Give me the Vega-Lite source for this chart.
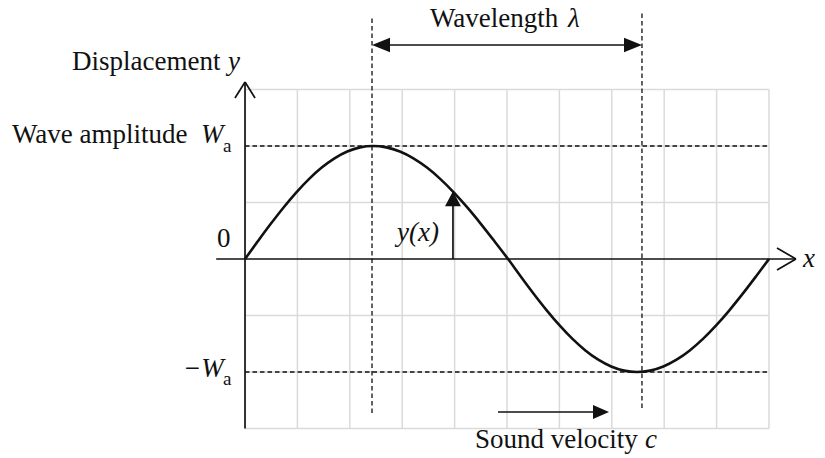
{
  "$schema": "https://vega.github.io/schema/vega-lite/v6.json",
  "width": 825,
  "height": 458,
  "autosize": {"type": "none"},
  "padding": 0,
  "background": "white",
  "config": {"view": {"stroke": null}},
  "datasets": {
    "grid": [
      {"x": 1, "y": -1.5, "x2": 1, "y2": 1.5},
      {"x": 2, "y": -1.5, "x2": 2, "y2": 1.5},
      {"x": 3, "y": -1.5, "x2": 3, "y2": 1.5},
      {"x": 4, "y": -1.5, "x2": 4, "y2": 1.5},
      {"x": 5, "y": -1.5, "x2": 5, "y2": 1.5},
      {"x": 6, "y": -1.5, "x2": 6, "y2": 1.5},
      {"x": 7, "y": -1.5, "x2": 7, "y2": 1.5},
      {"x": 8, "y": -1.5, "x2": 8, "y2": 1.5},
      {"x": 9, "y": -1.5, "x2": 9, "y2": 1.5},
      {"x": 10, "y": -1.5, "x2": 10, "y2": 1.5},
      {"x": 0, "y": -1.5, "x2": 10, "y2": -1.5},
      {"x": 0, "y": -1, "x2": 10, "y2": -1},
      {"x": 0, "y": -0.5, "x2": 10, "y2": -0.5},
      {"x": 0, "y": 0.5, "x2": 10, "y2": 0.5},
      {"x": 0, "y": 1, "x2": 10, "y2": 1},
      {"x": 0, "y": 1.5, "x2": 10, "y2": 1.5}
    ],
    "dashed": [
      {"x": 0, "y": 1, "x2": 10, "y2": 1},
      {"x": 0, "y": -1, "x2": 10, "y2": -1},
      {"x": 2.424, "y": -1.363, "x2": 2.424, "y2": 2.142},
      {"x": 7.576, "y": -1.319, "x2": 7.576, "y2": 2.186}
    ],
    "solid": [
      {"x": 0, "y": -1.5, "x2": 0, "y2": 1.566},
      {"x": -0.191, "y": 1.425, "x2": 0, "y2": 1.566},
      {"x": 0.191, "y": 1.425, "x2": 0, "y2": 1.566},
      {"x": -0.55, "y": 0, "x2": 10.515, "y2": 0},
      {"x": 10.153, "y": 0.097, "x2": 10.515, "y2": 0},
      {"x": 10.153, "y": -0.097, "x2": 10.515, "y2": 0},
      {"x": 2.6, "y": 1.894, "x2": 7.4, "y2": 1.894},
      {"x": 4.828, "y": -1.354, "x2": 6.8, "y2": -1.354},
      {"x": 3.969, "y": 0, "x2": 3.969, "y2": 0.5}
    ],
    "wave": [
      {"x": 0, "y": 0}, {"x": 0.244, "y": 0.1564}, {"x": 0.488, "y": 0.309}, {"x": 0.732, "y": 0.454},
      {"x": 0.976, "y": 0.5878}, {"x": 1.22, "y": 0.7071}, {"x": 1.464, "y": 0.809}, {"x": 1.708, "y": 0.891},
      {"x": 1.952, "y": 0.9511}, {"x": 2.196, "y": 0.9877}, {"x": 2.44, "y": 1}, {"x": 2.698, "y": 0.9877},
      {"x": 2.956, "y": 0.9511}, {"x": 3.214, "y": 0.891}, {"x": 3.472, "y": 0.809}, {"x": 3.73, "y": 0.7071},
      {"x": 3.988, "y": 0.5878}, {"x": 4.246, "y": 0.454}, {"x": 4.504, "y": 0.309}, {"x": 4.762, "y": 0.1564},
      {"x": 5.02, "y": 0}, {"x": 5.266, "y": -0.1564}, {"x": 5.512, "y": -0.309}, {"x": 5.758, "y": -0.454},
      {"x": 6.004, "y": -0.5878}, {"x": 6.25, "y": -0.7071}, {"x": 6.496, "y": -0.809}, {"x": 6.742, "y": -0.891},
      {"x": 6.988, "y": -0.9511}, {"x": 7.234, "y": -0.9877}, {"x": 7.48, "y": -1}, {"x": 7.732, "y": -0.9877},
      {"x": 7.984, "y": -0.9511}, {"x": 8.236, "y": -0.891}, {"x": 8.488, "y": -0.809}, {"x": 8.74, "y": -0.7071},
      {"x": 8.992, "y": -0.5878}, {"x": 9.244, "y": -0.454}, {"x": 9.496, "y": -0.309}, {"x": 9.748, "y": -0.1564},
      {"x": 10, "y": 0}
    ],
    "headRight": [{"x": 7.576, "y": 1.894}],
    "headLeft": [{"x": 2.424, "y": 1.894}],
    "headSound": [{"x": 6.947, "y": -1.354}],
    "headUp": [{"x": 3.969, "y": 0.6}],
    "upright": [
      {"label": "Displacement", "x": -3.302, "y": 1.673},
      {"label": "Wave amplitude", "x": -4.447, "y": 1.027},
      {"label": "0", "x": -0.534, "y": 0.106},
      {"label": "Wavelength", "x": 3.531, "y": 2.053},
      {"label": "Sound velocity", "x": 4.389, "y": -1.673}
    ],
    "italic": [
      {"label": "y", "x": -0.324, "y": 1.673},
      {"label": "W", "x": -0.84, "y": 1.027},
      {"label": "−W", "x": -1.183, "y": -1.044},
      {"label": "λ", "x": 6.164, "y": 2.053},
      {"label": "y(x)", "x": 2.901, "y": 0.159},
      {"label": "c", "x": 7.634, "y": -1.673},
      {"label": "x", "x": 10.649, "y": -0.071}
    ],
    "sub": [
      {"label": "a", "x": -0.42, "y": 0.947},
      {"label": "a", "x": -0.42, "y": -1.115}
    ]
  },
  "encoding": {
    "x": {"field": "x", "type": "quantitative", "scale": {"domain": [-4.676, 11.069], "nice": false, "zero": false}, "axis": null},
    "y": {"field": "y", "type": "quantitative", "scale": {"domain": [-1.761, 2.292], "nice": false, "zero": false}, "axis": null}
  },
  "layer": [
    {
      "data": {"name": "grid"},
      "mark": {"type": "rule", "color": "#dadada", "strokeWidth": 1.5},
      "encoding": {"x2": {"field": "x2"}, "y2": {"field": "y2"}}
    },
    {
      "data": {"name": "dashed"},
      "mark": {"type": "rule", "color": "#111111", "strokeWidth": 1.3, "strokeDash": [4.5, 3]},
      "encoding": {"x2": {"field": "x2"}, "y2": {"field": "y2"}}
    },
    {
      "data": {"name": "solid"},
      "mark": {"type": "rule", "color": "#111111", "strokeWidth": 1.7},
      "encoding": {"x2": {"field": "x2"}, "y2": {"field": "y2"}}
    },
    {
      "data": {"name": "wave"},
      "mark": {"type": "line", "color": "#111111", "strokeWidth": 2.6, "interpolate": "monotone"},
      "encoding": {}
    },
    {
      "data": {"name": "headRight"},
      "mark": {"type": "point", "shape": "M0,0L-1,-0.4L-1,0.4Z", "size": 1296, "filled": true, "color": "#111111", "opacity": 1, "strokeWidth": 0},
      "encoding": {}
    },
    {
      "data": {"name": "headLeft"},
      "mark": {"type": "point", "shape": "M0,0L1,-0.4L1,0.4Z", "size": 1296, "filled": true, "color": "#111111", "opacity": 1, "strokeWidth": 0},
      "encoding": {}
    },
    {
      "data": {"name": "headSound"},
      "mark": {"type": "point", "shape": "M0,0L-1,-0.44L-1,0.44Z", "size": 1024, "filled": true, "color": "#111111", "opacity": 1, "strokeWidth": 0},
      "encoding": {}
    },
    {
      "data": {"name": "headUp"},
      "mark": {"type": "point", "shape": "M0,0L-0.53,1L0.53,1Z", "size": 900, "filled": true, "color": "#111111", "opacity": 1, "strokeWidth": 0},
      "encoding": {}
    },
    {
      "data": {"name": "upright"},
      "mark": {"type": "text", "align": "left", "baseline": "alphabetic", "font": "Liberation Serif", "fontSize": 27, "color": "#111111"},
      "encoding": {"text": {"field": "label"}}
    },
    {
      "data": {"name": "italic"},
      "mark": {"type": "text", "align": "left", "baseline": "alphabetic", "font": "Liberation Serif", "fontSize": 27, "fontStyle": "italic", "color": "#111111"},
      "encoding": {"text": {"field": "label"}}
    },
    {
      "data": {"name": "sub"},
      "mark": {"type": "text", "align": "left", "baseline": "alphabetic", "font": "Liberation Serif", "fontSize": 19, "color": "#111111"},
      "encoding": {"text": {"field": "label"}}
    }
  ]
}
